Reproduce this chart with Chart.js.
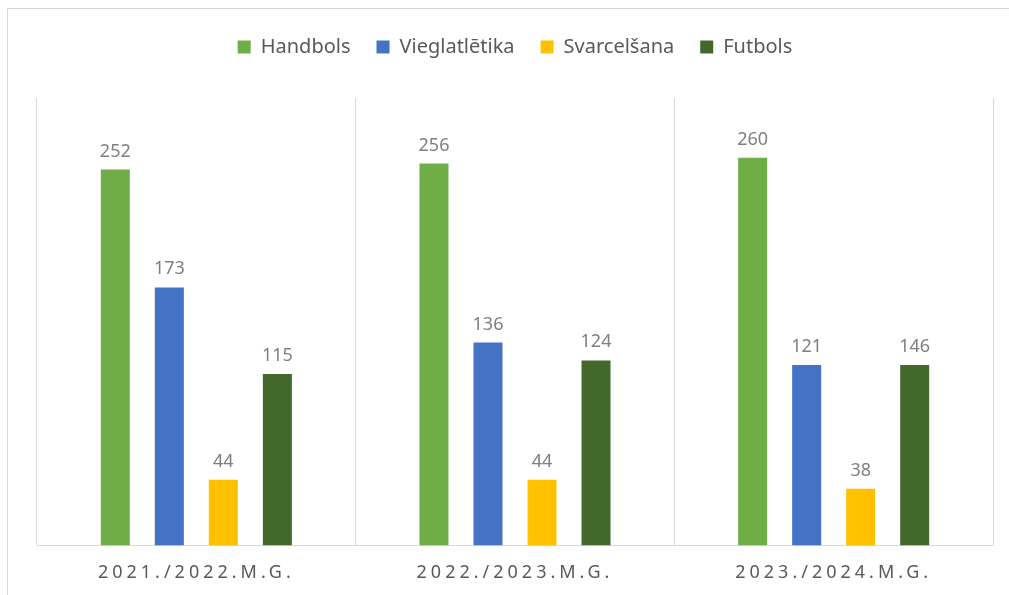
<!DOCTYPE html>
<html>
<head>
<meta charset="utf-8">
<script src="https://cdn.jsdelivr.net/npm/chart.js@4/dist/chart.umd.min.js"></script>
<style>
  body { margin: 0; background: #fff; overflow: hidden; }
  #wrap { position: relative; width: 1009px; height: 595px; }
  #frame { position: absolute; left: 7px; top: 8px; width: 1100px; height: 700px;
           border-top: 1px solid #d9d9d9; border-left: 1px solid #d9d9d9; }
  #chart { position: absolute; left: 0; top: 0; }
</style>
</head>
<body>
<div id="wrap">
  <div id="frame"></div>
  <canvas id="chart" width="1009" height="595"></canvas>
</div>
<script>
var years = ['2021./2022.M.G.', '2022./2023.M.G.', '2023./2024.M.G.'];

var handbols = [252, 256, 260];
var vieglatletika = [173, 136, 121];
var svarcelsana = [44, 44, 38];
// bar heights as drawn; the last one is drawn at ~121 but labelled 146
var futbols = [115, 124, 121];
var futbolsText = ['115', '124', '146'];

var yMax = 300;

// bar value labels, drawn above each bar
var barLabels = {
  id: 'barLabels',
  afterDatasetsDraw: function(chart) {
    var ctx = chart.ctx;
    ctx.save();
    ctx.font = '18px "Noto Sans"';
    ctx.fillStyle = '#7f7f7f';
    ctx.textAlign = 'center';
    ctx.textBaseline = 'alphabetic';
    chart.data.datasets.forEach(function(ds, i) {
      var meta = chart.getDatasetMeta(i);
      meta.data.forEach(function(bar, j) {
        var txt = ds.labelText ? ds.labelText[j] : String(ds.data[j]);
        ctx.fillText(txt, bar.x, bar.y - 13);
      });
    });
    ctx.restore();
  }
};

// spaced-out category labels like the original
var spacedTicks = {
  id: 'spacedTicks',
  afterLayout: function(chart) {
    var sc = chart.scales.x;
    if (sc._spaced) return;
    var orig = sc.drawLabels;
    sc.drawLabels = function(area) {
      chart.ctx.save();
      chart.ctx.letterSpacing = '4px';
      orig.call(this, area);
      chart.ctx.restore();
    };
    sc._spaced = true;
  }
};

new Chart(document.getElementById('chart'), {
  type: 'bar',
  data: {
    labels: years,
    datasets: [
      { label: 'Handbols', data: handbols, backgroundColor: '#70ad47' },
      { label: 'Vieglatlētika', data: vieglatletika, backgroundColor: '#4472c4' },
      { label: 'Svarcelšana', data: svarcelsana, backgroundColor: '#ffc000' },
      { label: 'Futbols', data: futbols, backgroundColor: '#43682b', labelText: futbolsText }
    ]
  },
  options: {
    responsive: false,
    animation: false,
    categoryPercentage: 0.678,
    barPercentage: 0.537,
    layout: { padding: { top: 11, left: 37, right: 16, bottom: -6 } },
    plugins: {
      legend: {
        position: 'top',
        weight: 3000,
        labels: {
          boxWidth: 13,
          boxHeight: 13,
          padding: 26,
          color: '#595959',
          font: { family: 'Noto Sans', size: 20 }
        }
      },
      title: {
        display: true,
        text: '',
        padding: 0,
        font: { size: 31, lineHeight: 1 }
      },
      tooltip: { enabled: false }
    },
    scales: {
      x: {
        grid: { color: '#d9d9d9', drawTicks: false, offset: true },
        border: { display: true, color: '#d9d9d9' },
        ticks: {
          padding: 17,
          color: '#595959',
          font: { family: 'Noto Sans', size: 18 }
        }
      },
      y: {
        display: false,
        min: 0,
        max: yMax
      }
    }
  },
  plugins: [barLabels, spacedTicks]
});
</script>
</body>
</html>
